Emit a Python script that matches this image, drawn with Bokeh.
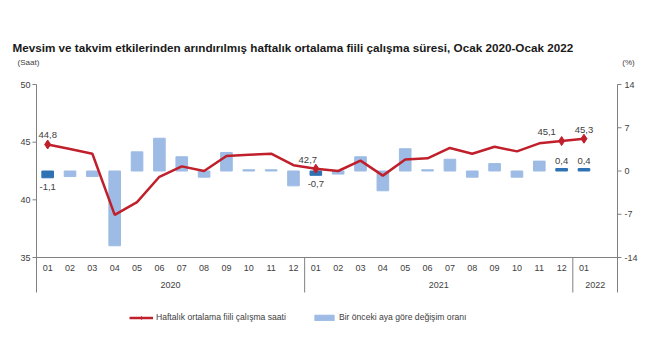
from bokeh.plotting import figure
from bokeh.models import Range1d, ColumnDataSource, Label, Legend, LegendItem
from bokeh.core.properties import value
from bokeh.embed import file_html
from bokeh.resources import INLINE

# ---- data ----
TITLE = "Mevsim ve takvim etkilerinden arındırılmış haftalık ortalama fiili çalışma süresi, Ocak 2020-Ocak 2022"
months = ["01", "02", "03", "04", "05", "06", "07", "08", "09", "10", "11", "12",
          "01", "02", "03", "04", "05", "06", "07", "08", "09", "10", "11", "12",
          "01"]
years = ["2020", "2021", "2022"]
hours = [44.8, 44.4, 44.0, 38.7, 39.8, 42.0, 42.9, 42.5, 43.8, 43.9, 44.0, 43.0,
         42.7, 42.5, 43.4, 42.1, 43.5, 43.6, 44.5, 44.0, 44.6, 44.2, 44.9, 45.1,
         45.3]
pct = [-1.1, -0.9, -0.9, -12.1, 3.1, 5.3, 2.3, -1.0, 3.0, 0.2, 0.2, -2.4,
       -0.7, -0.5, 2.3, -3.2, 3.6, 0.2, 1.9, -1.0, 1.2, -1.0, 1.6, 0.4,
       0.4]
highlight = [0, 12, 23, 24]
left_ticks = [35, 40, 45, 50]
right_ticks = [-14, -7, 0, 7, 14]

RED = "#C0202C"
LIGHT = "#9DBBE4"
DARK = "#2E72B4"
GRAY = "#808080"
TXT = "#404040"
FONT = "Liberation Sans"

def fmt(v):
    return f"{v:.1f}".replace(".", ",")

# ---- layout geometry (pixels) ----
W, H = 650, 358
FL, FR, FT, FB, BOT = 36, 617, 84, 257, 292
NSLOT = 26
SX = (FR - FL) / NSLOT                 # px per category slot
SL = (FB - FT) / (left_ticks[-1] - left_ticks[0])      # px per hour
SR = (FB - FT) / (right_ticks[-1] - right_ticks[0])    # px per percent

x_rng = Range1d(-FL / SX, NSLOT + (W - FR) / SX)
y_rng = Range1d(left_ticks[0] - (H - FB) / SL, left_ticks[-1] + FT / SL)
p_rng = Range1d(right_ticks[0] - (H - FB) / SR, right_ticks[-1] + FT / SR)
YB = left_ticks[0] - (BOT - FB) / SL   # bottom of vertical rules

p = figure(width=W, height=H, x_range=x_rng, y_range=y_rng,
           x_axis_location=None, y_axis_location=None,
           output_backend="svg", toolbar_location=None,
           min_border=0)
p.extra_y_ranges = {"pct": p_rng}
p.outline_line_color = None
p.grid.grid_line_color = None

n = len(months)
xs = [i + 0.5 for i in range(n)]

# bars
light_idx = [i for i in range(n) if i not in highlight]
src_light = ColumnDataSource(dict(x=[xs[i] for i in light_idx], top=[pct[i] for i in light_idx]))
src_dark = ColumnDataSource(dict(x=[xs[i] for i in highlight], top=[pct[i] for i in highlight]))
bar_light = p.vbar(x="x", top="top", bottom=0, width=0.52, source=src_light,
                   fill_color=LIGHT, line_color=LIGHT, line_width=1, y_range_name="pct")
bar_dark = p.vbar(x="x", top="top", bottom=0, width=0.52, source=src_dark,
                  fill_color=DARK, line_color=DARK, line_width=1, y_range_name="pct")

# line
src_line = ColumnDataSource(dict(x=xs, y=hours))
line_r = p.line("x", "y", source=src_line, line_color=RED, line_width=2.5)
src_hl = ColumnDataSource(dict(x=[xs[i] for i in highlight], y=[hours[i] for i in highlight],
                               lbl=[fmt(hours[i]) for i in highlight],
                               off=[0, -8, -15, 0]))
mark_r = p.scatter("x", "y", source=src_hl, marker="diamond", size=9,
                   fill_color=RED, line_color=RED)

# value labels
p.text(x="x", y="y", text="lbl", source=src_hl, x_offset="off", y_offset=-6,
       text_align="center", text_baseline="bottom", text_font_size="9.5px",
       text_font=value(FONT), text_color=TXT)
neg = [i for i in highlight if pct[i] < 0]
pos = [i for i in highlight if pct[i] >= 0]
p.text(x=[xs[i] for i in neg], y=[pct[i] for i in neg], text=[fmt(pct[i]) for i in neg],
       y_range_name="pct", y_offset=6, text_align="center", text_baseline="top",
       text_font_size="9.5px", text_font=value(FONT), text_color=TXT)
p.text(x=[xs[i] for i in pos], y=[pct[i] for i in pos], text=[fmt(pct[i]) for i in pos],
       y_range_name="pct", y_offset=-5, text_align="center", text_baseline="bottom",
       text_font_size="9.5px", text_font=value(FONT), text_color=TXT)

# ---- axes (drawn through the scales) ----
TK = 4 / SX
# vertical axis lines
p.segment(x0=[0, NSLOT], y0=[YB, YB], x1=[0, NSLOT], y1=[left_ticks[-1]] * 2,
          line_color=GRAY, line_width=1)
# left ticks + labels
p.segment(x0=[-TK] * len(left_ticks), y0=left_ticks, x1=[0] * len(left_ticks), y1=left_ticks,
          line_color=GRAY, line_width=1)
p.text(x=[-(4 + 2) / SX] * len(left_ticks), y=left_ticks, text=[str(t) for t in left_ticks],
       text_align="right", text_baseline="middle", text_font_size="9px",
       text_font=value(FONT), text_color=TXT)
# right ticks + labels
p.segment(x0=[NSLOT] * len(right_ticks), y0=right_ticks, x1=[NSLOT + TK] * len(right_ticks),
          y1=right_ticks, line_color=GRAY, line_width=1, y_range_name="pct")
p.text(x=[NSLOT + (4 + 3) / SX] * len(right_ticks), y=right_ticks,
       text=[str(t) for t in right_ticks], y_range_name="pct",
       text_align="left", text_baseline="middle", text_font_size="9px",
       text_font=value(FONT), text_color=TXT)
# category axis
p.segment(x0=[0], y0=[left_ticks[0]], x1=[NSLOT], y1=[left_ticks[0]], line_color=GRAY, line_width=1)
p.segment(x0=[12, 24], y0=[YB, YB], x1=[12, 24], y1=[left_ticks[0]] * 2,
          line_color=GRAY, line_width=1)
p.text(x=xs, y=[left_ticks[0] - 10 / SL] * n, text=months, text_align="center",
       text_baseline="middle", text_font_size="9px", text_font=value(FONT), text_color=TXT)
p.text(x=[6, 18, 25], y=[left_ticks[0] - 27 / SL] * 3, text=years, text_align="center",
       text_baseline="middle", text_font_size="9px", text_font=value(FONT), text_color=TXT)

# title and unit labels (screen units from bottom-left of the frame = canvas)
p.add_layout(Label(x=12, y=H - 47, x_units="screen", y_units="screen", text=TITLE,
                   text_font_size="11.7px", text_font_style="bold", text_font=FONT,
                   text_baseline="middle", text_color="#1a1a1a"))
p.add_layout(Label(x=28, y=H - 62, x_units="screen", y_units="screen", text="(Saat)",
                   text_font_size="8px", text_font=FONT, text_align="center",
                   text_baseline="middle", text_color=TXT))
p.add_layout(Label(x=628, y=H - 62, x_units="screen", y_units="screen", text="(%)",
                   text_font_size="8px", text_font=FONT, text_align="center",
                   text_baseline="middle", text_color=TXT))

legend = Legend(items=[
    LegendItem(label="Haftalık ortalama fiili çalışma saati", renderers=[line_r, mark_r]),
    LegendItem(label="Bir önceki aya göre değişim oranı", renderers=[bar_light]),
], location=(129, H - 322), orientation="horizontal", glyph_width=24, glyph_height=7,
    label_height=10, label_standoff=3, spacing=26, padding=0, margin=0,
    border_line_color=None, background_fill_alpha=0,
    label_text_font_size="8.6px", label_text_font=FONT, label_text_color=TXT)
p.add_layout(legend, "center")

open("out.html", "w").write(file_html(p, INLINE))
